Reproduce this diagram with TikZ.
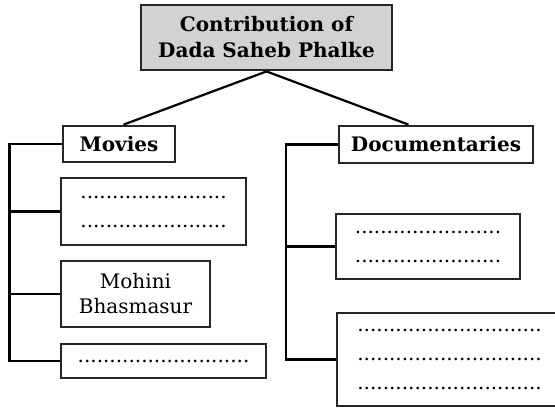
\documentclass[tikz,border=0pt]{standalone}
\usepackage{fontspec}
\setmainfont{DejaVu Serif}
\usetikzlibrary{calc}

\begin{document}
\begin{tikzpicture}[
    x=0.5pt, y=-0.5pt,
    line width=1.1pt,
    card/.style={
        rectangle,
        draw=black!85,
        line width=1.4pt,
        inner sep=0pt,
        align=center,
        font=\fontsize{10}{14.5}\selectfont
    },
    headcard/.style={
        card,
        font=\bfseries\fontsize{10}{13}\selectfont
    }
]
\clip (0,0) rectangle (555,408);

\node[headcard, fill=gray!35, minimum width=125.5pt, minimum height=32.5pt] (title) at (266.5,37.5) {Contribution of\\Dada Saheb Phalke};

\node[headcard, minimum width=56pt, minimum height=18pt] (movies) at (119,144) {Movies};
\node[headcard, minimum width=97pt, minimum height=18.5pt] (docs) at (436,144.5) {Documentaries};

\node[card, minimum width=92.5pt, minimum height=33.5pt] (m1) at (153.5,211.5) {.......................\\.......................};
\node[card, minimum width=74.5pt, minimum height=33pt, font=\fontsize{10}{12.5}\selectfont] (m2) at (135.5,294) {Mohini\\Bhasmasur};
\node[card, minimum width=102.5pt, minimum height=17pt] (m3) at (163.5,361) {...........................};

\node[card, minimum width=92pt, minimum height=32.5pt] (d1) at (428,246.5) {.......................\\.......................};
\node[card, minimum width=112.5pt, minimum height=46.5pt, text width=102pt] (d2) at (449.5,359.5) {.............................\\.............................\\.............................};

\coordinate (lrail) at (9.5,0);
\coordinate (rrail) at (286,0);

\draw (title.south) -- ($(movies.north west)!0.54!(movies.north east)$);
\draw (title.south) -- ($(docs.north west)!0.36!(docs.north east)$);

% left bracket
\draw (movies.west) -- (movies.west -| lrail) |- (m3.west);
\draw (m1.west) -- (m1.west -| lrail);
\draw (m2.west) -- (m2.west -| lrail);

% right bracket
\draw (docs.west) -- (docs.west -| rrail) |- (d2.west);
\draw (d1.west) -- (d1.west -| rrail);

\end{tikzpicture}
\end{document}
